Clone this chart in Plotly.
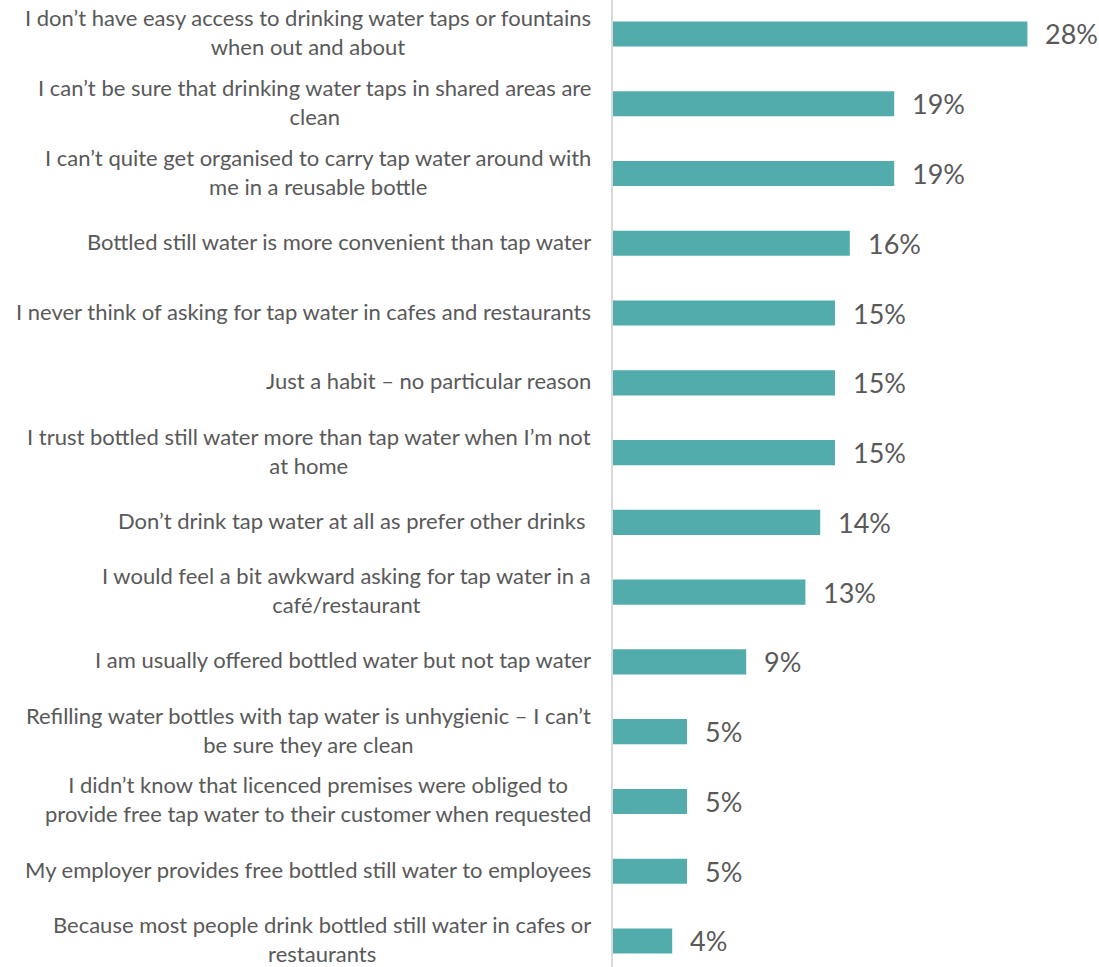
import plotly.graph_objects as go

# Reasons for not drinking tap water when out (share of respondents, %)
reasons = [
    "I don’t have easy access to drinking water taps or fountains<br>when out and about",
    "I can’t be sure that drinking water taps in shared areas are<br>clean",
    "I can’t quite get organised to carry tap water around with<br>me in a reusable bottle",
    "Bottled still water is more convenient than tap water",
    "I never think of asking for tap water in cafes and restaurants",
    "Just a habit – no particular reason",
    "I trust bottled still water more than tap water when I’m not<br>at home",
    "Don’t drink tap water at all as prefer other drinks ",
    "I would feel a bit awkward asking for tap water in a<br>café/restaurant",
    "I am usually offered bottled water but not tap water",
    "Refilling water bottles with tap water is unhygienic – I can’t<br>be sure they are clean",
    "I didn’t know that licenced premises were obliged to<br>provide free tap water to their customer when requested",
    "My employer provides free bottled still water to employees",
    "Because most people drink bottled still water in cafes or<br>restaurants",
]
shares = [28, 19, 19, 16, 15, 15, 15, 14, 13, 9, 5, 5, 5, 4]

BAR_COLOR = "#52ACAC"
TEXT_COLOR = "#595959"
FONT = "Lato"

positions = list(range(len(reasons)))

fig = go.Figure(
    go.Bar(
        x=shares,
        y=positions,
        orientation="h",
        marker=dict(color=BAR_COLOR, line=dict(width=0)),
        width=0.36,
        hoverinfo="skip",
    )
)

annotations = []
for i, (label, v) in enumerate(zip(reasons, shares)):
    # category label, centred text block right-aligned against the axis
    annotations.append(dict(
        x=0, y=i, xref="x", yref="y", text=label, showarrow=False,
        xanchor="right", yanchor="middle", align="center",
        xshift=-20, yshift=2,
        font=dict(family=FONT, size=22, color=TEXT_COLOR),
    ))
    # value label just past the end of the bar
    annotations.append(dict(
        x=v, y=i, xref="x", yref="y", text=f"{v}%", showarrow=False,
        xanchor="left", yanchor="middle", xshift=16,
        font=dict(family=FONT, size=27, color=TEXT_COLOR),
    ))

fig.update_layout(
    width=1099, height=967,
    margin=dict(l=613, r=0, t=0, b=0),
    paper_bgcolor="white", plot_bgcolor="white",
    showlegend=False,
    annotations=annotations,
    xaxis=dict(range=[0, 486 / 14.8], visible=False, fixedrange=True),
    yaxis=dict(
        range=[13.373, -0.487], showticklabels=False, showgrid=False,
        zeroline=False, showline=True, linecolor="#D9D9D9", linewidth=2,
        ticks="", fixedrange=True,
    ),
)

fig.write_html("out.html")
